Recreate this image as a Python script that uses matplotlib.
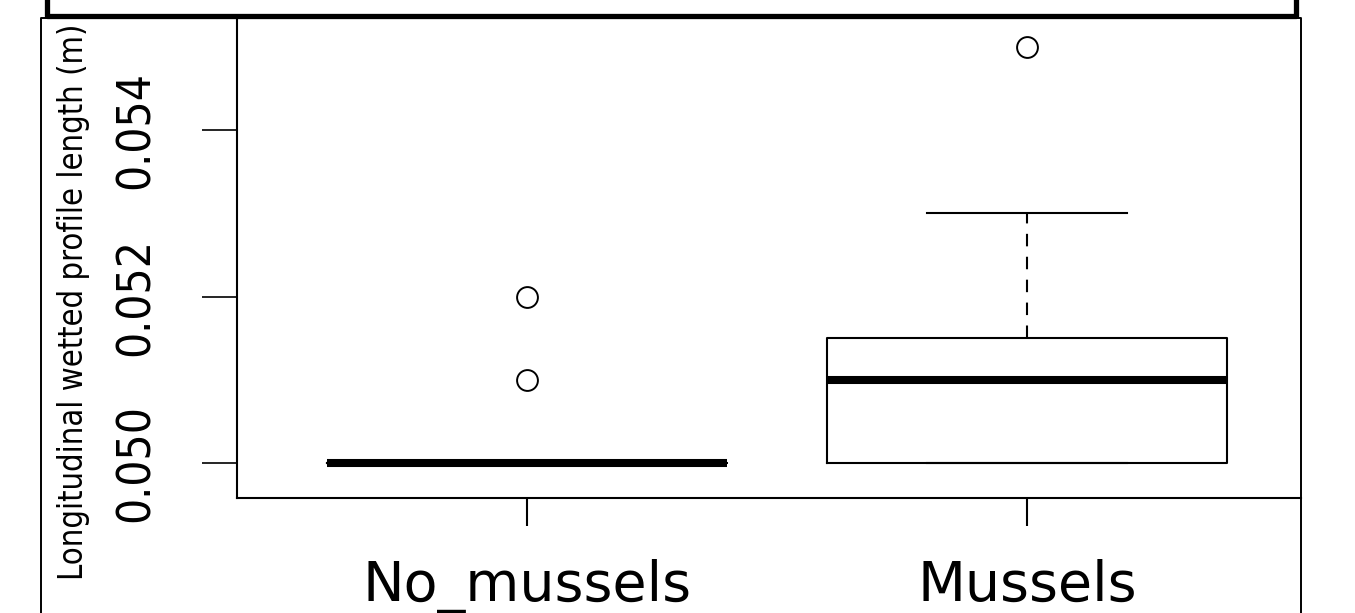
import matplotlib
matplotlib.use("Agg")
import matplotlib.pyplot as plt
from matplotlib import font_manager
from matplotlib.lines import Line2D

# Box plot summary values (m)
groups = ["No_mussels", "Mussels"]
q1 = [0.050, 0.050]
medians = [0.050, 0.051]
q3 = [0.050, 0.0515]
whisker_low = [0.050, 0.050]
whisker_high = [0.050, 0.053]
outliers = [[0.051, 0.052], [0.055]]
y_ticks = [0.050, 0.052, 0.054]
y_tick_labels = ["0.050", "0.052", "0.054"]

W, H = 1355, 613

installed = {f.name for f in font_manager.fontManager.ttflist}
if "Liberation Sans Narrow" in installed:
    narrow = {"family": "Liberation Sans Narrow"}
    ytick_size, ylabel_size = 38, 29
else:
    narrow = {"family": "DejaVu Sans", "stretch": "condensed"}
    ytick_size, ylabel_size = 33, 23.5


def fx(px):
    return px / W


def fy(py):
    return 1 - py / H


fig = plt.figure(figsize=(W / 100, H / 100), dpi=100)
ax = fig.add_axes([fx(237), fy(498), fx(1301) - fx(237), fy(18) - fy(498)])

stats = []
for i in range(len(groups)):
    stats.append({
        "label": groups[i],
        "q1": q1[i], "med": medians[i], "q3": q3[i],
        "whislo": whisker_low[i], "whishi": whisker_high[i],
        "fliers": outliers[i],
    })

ax.bxp(stats, positions=[1, 2], widths=0.8, capwidths=0.4,
       boxprops=dict(color="black", linewidth=1.5),
       medianprops=dict(color="black", linewidth=5.8, solid_capstyle="butt"),
       whiskerprops=dict(color="black", linewidth=1.5, linestyle=(0, (6, 5))),
       capprops=dict(color="black", linewidth=1.5),
       flierprops=dict(marker="o", markersize=15, markerfacecolor="none",
                       markeredgecolor="black", markeredgewidth=1.4))

ax.set_xlim(0.42, 2.548)
ax.set_ylim(0.04958, 0.055345)

ax.spines["top"].set_visible(False)
ax.spines["right"].set_visible(False)
ax.spines["left"].set_linewidth(1.5)
ax.spines["bottom"].set_linewidth(1.5)

ax.set_yticks(y_ticks)
ax.set_yticklabels(y_tick_labels, rotation=90, va="center", fontsize=ytick_size, **narrow)
ax.tick_params(axis="y", length=25, width=1.2, pad=31)

ax.set_xticks([1, 2])
ax.set_xticklabels(groups, fontsize=40, family="DejaVu Sans")
ax.tick_params(axis="x", length=20, width=1.5, pad=24)

ax.set_ylabel("Longitudinal wetted profile length (m)", fontsize=ylabel_size, **narrow)
ax.yaxis.set_label_coords(-0.138, 0.408)

# frame lines around the panel and the bottom of the panel above
fig.add_artist(Line2D([fx(41), fx(41), fx(1301), fx(1301)],
                      [fy(613), fy(18), fy(18), fy(613)],
                      color="black", linewidth=1.4, transform=fig.transFigure))
fig.add_artist(Line2D([fx(47.5), fx(47.5), fx(1295.5), fx(1295.5)],
                      [fy(-5), fy(15.5), fy(15.5), fy(-5)],
                      color="black", linewidth=3.8, transform=fig.transFigure))

fig.savefig("out.png", dpi=100, facecolor="white")
